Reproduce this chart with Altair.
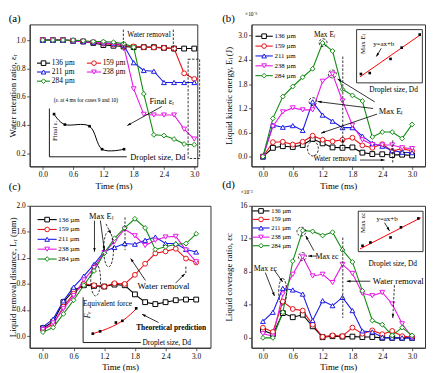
import math
import altair as alt
import pandas as pd

FONT = "Liberation Serif"
TIME = [0.0, 0.2, 0.4, 0.6, 0.8, 1.0, 1.2, 1.4, 1.6, 1.8, 2.0, 2.2, 2.4, 2.6, 2.8, 3.0]
XTICKS = [0.0, 0.6, 1.2, 1.8, 2.4, 3.0]
SERIES = ["136 µm", "159 µm", "211 µm", "238 µm", "284 µm"]
COLORS = ["#000000", "#e8141a", "#1a1ae6", "#e619e6", "#128c12"]
SHAPES = ["square", "circle", "triangle-up", "triangle-down", "diamond"]

# (a) water retention ratio
RET_136 = [1.0, 1.0, 1.0, 0.995, 0.99, 0.98, 0.965, 0.96, 0.955, 0.95, 0.95, 0.95, 0.945, 0.94, 0.94, 0.94]
RET_159 = [1.0, 1.0, 1.0, 0.995, 0.99, 0.985, 0.975, 0.97, 0.96, 0.955, 0.95, 0.948, 0.945, 0.94, 0.765, 0.725]
RET_211 = [1.0, 1.0, 1.0, 0.995, 0.99, 0.985, 0.98, 0.975, 0.965, 0.84, 0.785, 0.78, 0.70, 0.70, 0.70, 0.70]
RET_238 = [1.0, 1.0, 1.0, 0.995, 0.99, 0.985, 0.98, 0.975, 0.965, 0.655, 0.475, 0.47, 0.47, 0.47, 0.37, 0.30]
RET_284 = [1.0, 1.0, 1.0, 1.0, 0.995, 0.99, 0.99, 0.985, 0.975, 0.95, 0.62, 0.33, 0.325, 0.30, 0.265, 0.26]
# (a) inset: final ratio vs droplet size (fractions of inset axes)
INS_A_X = [0.061, 0.203, 0.526, 0.690, 0.978]
INS_A_Y = [0.884, 0.667, 0.633, 0.157, 0.157]

# (b) kinetic energy (x1e-6 J)
KE_136 = [0, 0.22, 0.26, 0.24, 0.29, 0.44, 0.33, 0.23, 0.22, 0.23, 0.10, 0.065, 0.06, 0.04, 0.05, 0.03]
KE_159 = [0, 0.36, 0.37, 0.30, 0.37, 0.52, 0.42, 0.38, 0.42, 0.47, 0.28, 0.22, 0.31, 0.14, 0.20, 0.14]
KE_211 = [0, 0.78, 0.73, 0.77, 0.65, 1.36, 1.03, 0.88, 0.72, 0.72, 0.51, 0.33, 0.26, 0.15, 0.11, 0.10]
KE_238 = [0, 0.75, 1.11, 1.21, 1.16, 1.16, 1.87, 2.05, 1.38, 0.78, 0.42, 0.30, 0.29, 0.29, 0.22, 0.20]
KE_284 = [0, 0.95, 1.49, 1.74, 1.97, 2.18, 2.82, 2.62, 1.67, 1.52, 1.38, 0.49, 0.61, 0.61, 0.45, 0.80]
INS_B_X = [0.066, 0.2, 0.516, 0.685, 0.96]
INS_B_Y = [0.167, 0.185, 0.45, 0.661, 0.907]
FIT_B_X = [0.051, 0.975]
FIT_B_Y = [0.111, 0.907]

# (c) liquid removal distance (mm)
LR_136 = [0.12, 0.22, 0.52, 0.70, 0.78, 0.77, 0.76, 0.79, 0.78, 0.64, 0.52, 0.49, 0.52, 0.55, 0.56, 0.56]
LR_159 = [0.10, 0.18, 0.45, 0.65, 0.80, 0.78, 0.76, 0.81, 0.80, 0.94, 1.11, 1.27, 1.30, 1.34, 1.19, 1.13]
LR_211 = [0.14, 0.26, 0.54, 0.75, 0.92, 1.10, 1.30, 1.36, 1.42, 1.41, 1.47, 1.52, 1.42, 1.42, 1.33, 1.29]
LR_238 = [0.10, 0.20, 0.42, 0.62, 0.86, 1.05, 1.28, 1.45, 1.64, 1.54, 1.39, 1.47, 1.52, 1.53, 1.32, 1.14]
LR_284 = [0.06, 0.13, 0.34, 0.55, 0.78, 1.00, 1.27, 1.50, 1.66, 1.80, 1.66, 1.33, 1.37, 1.41, 1.42, 1.57]
INS_C_X = [0.168, 0.294, 0.568, 0.680, 0.920]
INS_C_Y = [0.196, 0.246, 0.441, 0.478, 0.754]
THEO_C_X = [0.157, 0.338, 0.509, 0.680, 0.824, 0.937]
THEO_C_Y = [0.189, 0.267, 0.354, 0.478, 0.624, 0.767]

# (d) liquid coverage ratio (x1e-3)
CV_136 = [0.92, 0.44, 3.0, 2.5, 2.8, 1.4, 0.08, 0.2, 0.15, 0.15, 0.1, 0.1, 0.0, 0.0, 0.0, 0.0]
CV_159 = [1.24, 0.72, 4.4, 3.5, 3.3, 1.6, 0.12, 0.3, 0.2, 1.24, 0.5, 0.9, 0.44, 0.84, 0.2, 0.1]
CV_211 = [2.0, 3.1, 6.0, 5.8, 5.3, 2.1, 4.5, 3.9, 4.9, 3.3, 0.84, 0.72, 0.08, 0.0, 0.0, 0.0]
CV_238 = [0.5, 0.2, 5.3, 7.7, 9.8, 7.5, 7.7, 6.7, 8.9, 7.8, 5.4, 5.1, 5.5, 4.1, 1.7, 0.04]
CV_284 = [0.0, 0.0, 3.1, 9.3, 13.0, 12.9, 12.4, 12.8, 10.65, 9.2, 5.7, 2.1, 1.6, 0.3, 1.24, 0.3]
INS_D_X = [0.066, 0.187, 0.498, 0.659, 0.928]
INS_D_Y = [0.146, 0.227, 0.351, 0.602, 0.822]
FIT_D_X = [0.025, 0.964]
FIT_D_Y = [0.066, 0.837]

ONE = pd.DataFrame({"o": [0]})
DASH = [2.5, 1.5]
ARROW = "M0,0 L-0.6,1.8 L0.6,1.8 Z"


def long_df(cols):
    rows = []
    for s, vals in zip(SERIES, cols):
        for t, v in zip(TIME, vals):
            rows.append({"t": t, "v": v, "s": s})
    return pd.DataFrame(rows)


def T(x, y, s, size=8, align="center", baseline="middle", angle=0, weight="normal", style="normal"):
    return alt.Chart(ONE).mark_text(
        text=s, font=FONT, fontSize=size, align=align, baseline=baseline,
        angle=angle, fontWeight=weight, fontStyle=style, color="black"
    ).encode(x=alt.value(x), y=alt.value(y))


def SEG(x1, y1, x2, y2, dash=None, w=0.8, color="black"):
    kw = dict(color=color, strokeWidth=w)
    if dash:
        kw["strokeDash"] = dash
    return alt.Chart(ONE).mark_rule(**kw).encode(
        x=alt.value(x1), y=alt.value(y1), x2=alt.value(x2), y2=alt.value(y2))


def HEAD(x1, y1, x2, y2, size=18):
    ang = math.degrees(math.atan2(x2 - x1, -(y2 - y1))) % 360
    return alt.Chart(ONE).mark_point(
        shape=ARROW, filled=True, color="black", size=size, angle=ang, opacity=1, strokeWidth=0
    ).encode(x=alt.value(x2), y=alt.value(y2))


def ARR(x1, y1, x2, y2, dash=None):
    return [SEG(x1, y1, x2, y2, dash), HEAD(x1, y1, x2, y2)]


def ELL(x, y, w, h, dash=DASH):
    r = w / h
    shape = f"M0,-1 A{r:.3f},1 0 1,1 0,1 A{r:.3f},1 0 1,1 0,-1 Z"
    return alt.Chart(ONE).mark_point(
        shape=shape, size=h * h, filled=False, color="black", strokeWidth=0.8,
        strokeDash=dash, opacity=1
    ).encode(x=alt.value(x), y=alt.value(y))


def RECT(x1, y1, x2, y2, dash=None, w=0.8):
    kw = dict(fillOpacity=0, stroke="black", strokeWidth=w)
    if dash:
        kw["strokeDash"] = dash
    return alt.Chart(ONE).mark_rect(**kw).encode(
        x=alt.value(x1), x2=alt.value(x2), y=alt.value(y1), y2=alt.value(y2))


def LEGEND(rows, size=7):
    out = []
    for i, x0, x1, y, xt in rows:
        out.append(SEG(x0, y, x1, y, w=1.1, color=COLORS[i]))
        out.append(alt.Chart(ONE).mark_point(
            shape=SHAPES[i], size=22, filled=False, fill="white", color=COLORS[i],
            strokeWidth=1, opacity=1).encode(x=alt.value((x0 + x1) / 2), y=alt.value(y)))
        out.append(T(xt, y, SERIES[i], size=size, align="left"))
    return out


def INSET(px0, px1, py0, py1, pfx, pfy, lfx, lfy, color="red", interp="linear"):
    xs = alt.Scale(domain=[0, 1], range=[px0, px1], nice=False, zero=False)
    ys = alt.Scale(domain=[0, 1], range=[py1, py0], nice=False, zero=False)
    dl = pd.DataFrame({"fx": lfx, "fy": lfy})
    dp = pd.DataFrame({"fx": pfx, "fy": pfy})
    line = alt.Chart(dl).mark_line(color=color, strokeWidth=1, interpolate=interp).encode(
        x=alt.X("fx:Q", scale=xs, axis=None), y=alt.Y("fy:Q", scale=ys, axis=None))
    pts = alt.Chart(dp).mark_point(shape="square", filled=True, color="black", size=7, opacity=1).encode(
        x=alt.X("fx:Q", scale=xs, axis=None), y=alt.Y("fy:Q", scale=ys, axis=None))
    return alt.layer(line, pts)


def PANEL(df, W, H, xdom, ydom, yvals, yfmt, ytitle, titlex, annotations, inset):
    xs = alt.Scale(domain=xdom, nice=False, zero=False)
    ys = alt.Scale(domain=ydom, nice=False, zero=False)
    xax = alt.Axis(values=XTICKS, format=".1f", title="Time (ms)")
    yax = alt.Axis(values=yvals, format=yfmt, title=ytitle, titleX=titlex, titleY=H / 2,
                   titleAngle=270, titleBaseline="bottom", titleAlign="center")
    color = alt.Color("s:N", scale=alt.Scale(domain=SERIES, range=COLORS), legend=None)
    shape = alt.Shape("s:N", scale=alt.Scale(domain=SERIES, range=SHAPES), legend=None)
    base = alt.Chart(df)
    lines = base.mark_line(strokeWidth=1.1).encode(
        x=alt.X("t:Q", scale=xs, axis=xax), y=alt.Y("v:Q", scale=ys, axis=yax), color=color)
    pts = base.mark_point(size=24, filled=False, fill="white", strokeWidth=1, opacity=1).encode(
        x=alt.X("t:Q", scale=xs, axis=xax), y=alt.Y("v:Q", scale=ys, axis=yax), color=color, shape=shape)
    main = alt.layer(lines, pts, *annotations)
    return alt.layer(main, inset).resolve_scale(x="independent", y="independent").properties(width=W, height=H)


# ---------------- panel (a)
ann_a = [T(-21.3, -5.7, "(a)", 11, align="left"),
         SEG(95, 5.3, 95, 26.6, DASH), SEG(145.7, 5.3, 145.7, 26.6, DASH),
         T(121, 10.3, "Water removal", 7.5),
         RECT(160.7, 35.3, 172.4, 136, DASH),
         T(134, 77.3, "Final εᵣ", 8.5),
         *ARR(134, 83.3, 99, 102.6),
         T(57, 76.6, "(εᵣ at 4 ms for cases 9 and 10)", 5.5),
         T(25.7, 108, "Final εᵣ", 7, angle=270),
         T(130, 134.3, "Droplet size, Dd", 8.5),
         SEG(20, 85.3, 20, 134.3, w=0.9), SEG(20, 134.3, 98.5, 134.3, w=0.9),
         *LEGEND([(0, 7.4, 20.7, 39.3, 22.4), (1, 58, 72.4, 39.3, 74),
                  (2, 7.4, 20.7, 48.3, 22.4), (3, 58, 72.4, 48.3, 74),
                  (4, 7.4, 20.7, 57.6, 22.4)], size=7.5)]
ins_a = INSET(20, 97.4, 85.3, 134.3, INS_A_X, INS_A_Y, INS_A_X, INS_A_Y, color="black", interp="cardinal")
pa = PANEL(long_df([RET_136, RET_159, RET_211, RET_238, RET_284]), 170, 144,
           [-0.26, 3.06], [0.107, 1.111], [0.2, 0.4, 0.6, 0.8, 1.0], ".1f",
           "Water retention ratio, εᵣ", -12.4, ann_a, ins_a)

# ---------------- panel (b)
ann_b = [T(-29.7, -5.7, "(b)", 11, align="left"),
         T(-6.5, -12.7, "×10⁻⁶", 5.5, align="left", baseline="top"),
         *LEGEND([(i, 4, 21.6, 12 + 10 * i, 23.3) for i in range(5)], size=7),
         T(74, 11, "Max Eₗ", 7.5),
         ELL(72.6, 18.6, 8, 8), ELL(82, 50.3, 8, 8), ELL(62.3, 78.3, 8, 8), ELL(62.3, 126, 11, 15),
         T(141, 87.6, "Max Eₗ", 8.5),
         *ARR(125, 78.6, 87.3, 55.3), *ARR(123.3, 85.3, 67.3, 78.3), *ARR(127.3, 91, 70.6, 110.3),
         SEG(92.6, 32.6, 92.6, 126, DASH), HEAD(92.6, 126, 92.6, 116),
         SEG(143.3, 117.6, 143.3, 141, DASH),
         T(84.8, 136.6, "Water removal", 7.5),
         *ARR(110, 137.6, 135, 137.6),
         RECT(106.6, 5.3, 173.3, 59.3),
         T(113, 20, "Max Eₗ", 7, angle=270),
         T(134.1, 20.3, "y=ax+b", 7),
         *ARR(131.6, 24.3, 126.6, 32.6),
         T(144.1, 66.6, "Droplet size, Dd", 7.5)]
ins_b = INSET(106.6, 173.3, 5.3, 59.3, INS_B_X, INS_B_Y, FIT_B_X, FIT_B_Y)
pb = PANEL(long_df([KE_136, KE_159, KE_211, KE_238, KE_284]), 176, 144,
           [-0.23, 3.26], [-0.24, 3.28], [0.0, 0.6, 1.2, 1.8, 2.4, 3.0], ".1f",
           "Liquid kinetic energy, Eₗ (J)", -18, ann_b, ins_b)

# ---------------- panel (c)
ann_c = [T(-21.3, -19.3, "(c)", 11, align="left"),
         *LEGEND([(i, 8, 27.4, 14 + 10 * i, 29) for i in range(5)], size=7),
         T(72.2, 10.7, "Max Eₗ", 8.5),
         *ARR(65.7, 15, 65.7, 46.7), *ARR(71.7, 15, 75.7, 45), *ARR(77.4, 18.4, 82.4, 28.4, DASH),
         ELL(66.9, 75, 10, 33), ELL(80, 44, 10, 36),
         SEG(96.7, 11.7, 96.7, 45, DASH),
         T(135.7, 81, "Water removal", 9),
         *ARR(117.4, 75.7, 102.4, 53.4), *ARR(148, 78.4, 157.4, 69),
         SEG(158.4, 61.7, 158.4, 69, DASH),
         SEG(54.2, 92.7, 54.2, 138.7, w=0.9), SEG(54.2, 138.7, 112.7, 138.7, w=0.9),
         T(79, 99.7, "Equivalent force", 7.5),
         T(58.7, 110.7, "Fₑ", 8, angle=270, style="italic"),
         T(143.5, 124, "Theoretical prediction", 7.5, weight="bold"),
         *ARR(130.7, 118.4, 114, 110),
         T(139, 139, "Droplet size, Dd", 7.5)]
ins_c = INSET(54.2, 112.7, 92.7, 138.7, INS_C_X, INS_C_Y, THEO_C_X, THEO_C_Y, interp="monotone")
pc = PANEL(long_df([LR_136, LR_159, LR_211, LR_238, LR_284]), 183.4, 144,
           [-0.26, 3.28], [-0.18, 2.0], [0.0, 0.4, 0.8, 1.2, 1.6, 2.0], ".1f",
           "Liquid removal distance, Lᵣ (mm)", -12.4, ann_c, ins_c)

# ---------------- panel (d)
ann_d = [T(-29.7, -21.5, "(d)", 11, align="left"),
         T(-11, -13.5, "×10⁻³", 5.5, align="left"),
         *LEGEND([(0, 1, 18.3, 5.2, 20), (1, 1, 18.3, 13.8, 20), (2, 1, 18.3, 22.5, 20),
                  (3, 1, 18.3, 31.8, 20), (4, 1, 18.3, 40.5, 20)], size=6.5),
         T(14.1, 63.8, "Max εc", 8),
         *ARR(14, 67.8, 23.3, 91.5), *ARR(23.3, 65.5, 31.6, 77.2),
         ELL(31.6, 87.2, 8, 27),
         T(76.6, 51.5, "Max εc", 8),
         *ARR(63.3, 45.5, 55, 30.5), *ARR(66, 51, 57.5, 51),
         ELL(50.6, 26.2, 9, 9), ELL(51.6, 51.5, 8, 8),
         SEG(92.6, 32.2, 92.6, 113.8, DASH),
         T(148.8, 76.5, "Water removal", 8.8),
         *ARR(120.5, 76.5, 96.6, 76.5),
         *ARR(145, 80.5, 143.3, 113.8, DASH),
         RECT(108.3, 5.5, 174, 46.5),
         T(113, 17.2, "Max εc", 7, angle=270),
         T(137.5, 13.2, "y=ax+b", 7),
         *ARR(135, 17.2, 140, 25.5),
         T(143.3, 59.5, "Droplet size, Dd", 7.5)]
ins_d = INSET(108.3, 174, 5.5, 46.5, INS_D_X, INS_D_Y, FIT_D_X, FIT_D_Y)
pd_ = PANEL(long_df([CV_136, CV_159, CV_211, CV_238, CV_284]), 176, 144,
            [-0.23, 3.26], [-1.2, 16], [0, 4, 8, 12, 16], "d",
            "Liquid coverage ratio, εc", -18, ann_d, ins_d)

chart = alt.concat(pa, pb, pc, pd_, columns=2, spacing={"row": 40, "column": 41},
                   bounds="flush").properties(
    padding={"left": 0, "top": 0, "right": 0, "bottom": 0}
).configure_view(stroke="#333333", strokeWidth=1).configure_axis(
    labelFont=FONT, titleFont=FONT, labelFontSize=7.5, titleFontSize=9, titleFontWeight="normal",
    tickSize=3, tickColor="#333333", domainColor="#333333", labelColor="black", titleColor="black",
    grid=False, labelPadding=1.5, titlePadding=3, labelFlush=False, labelOverlap=False,
    domainWidth=1, tickWidth=0.8)

chart.save("out.html", embed_options={"renderer": "svg", "actions": False})
